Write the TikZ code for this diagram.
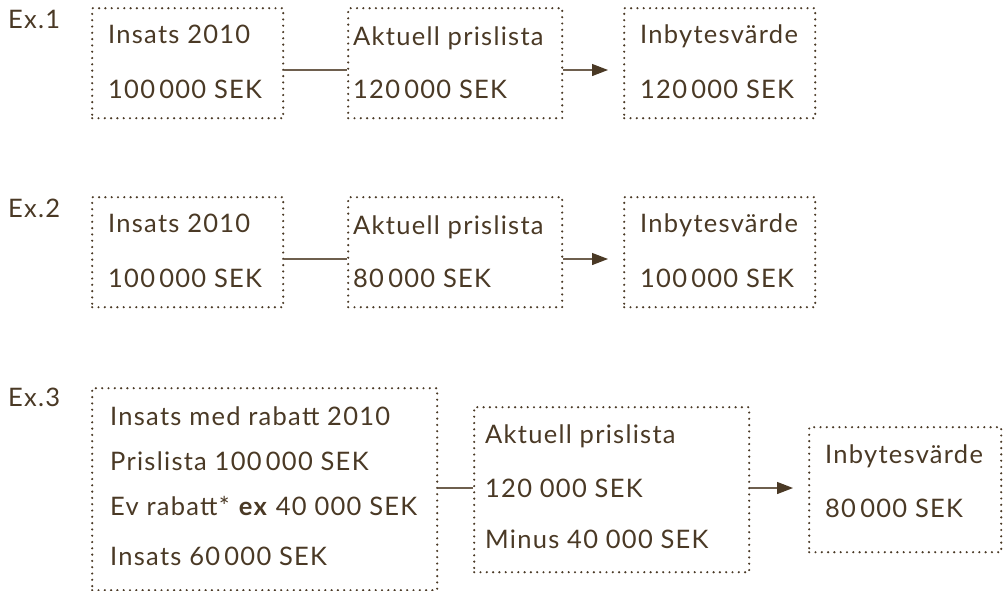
\documentclass[tikz,border=0pt]{standalone}
\usepackage{fontspec}
\setmainfont{Lato}[LetterSpace=5]
\usetikzlibrary{arrows.meta}
\definecolor{ink}{RGB}{74,57,37}
\definecolor{wire}{RGB}{110,95,78}
\tikzset{
  x=1pt, y=-1pt,
  box/.style={draw=ink, line width=2.4pt, dash pattern=on 0pt off 6.3pt, line cap=round, inner sep=0pt, anchor=north west},
  txt/.style={text=ink, inner sep=0pt, anchor=base west, font=\fontsize{25.5}{30}\selectfont},
  link/.style={draw=wire, line width=1.3pt},
  arr/.style={draw=wire, line width=1.3pt, -{Triangle[length=16pt,width=12pt,color=ink]}},
}
\begin{document}
\begin{tikzpicture}
\useasboundingbox (0,0) rectangle (1007,590);
% Row 1
\node[txt] (ex1) at (8,28) {Ex.1};
\node[box, minimum width=191pt, minimum height=110pt] (a1) at (91,7) {};
\node[box, minimum width=214pt, minimum height=110pt] (a2) at (347,7) {};
\node[box, minimum width=191pt, minimum height=110pt] (a3) at (623,7) {};
\node[txt] (a1t1) at (108,43) {Insats 2010};
\node[txt] (a1t2) at (108,98) {100\thinspace000 SEK};
\node[txt] (a2t1) at (353,45) {Aktuell prislista};
\node[txt] (a2t2) at (353,98) {120\thinspace000 SEK};
\node[txt] (a3t1) at (640,43) {Inbytesvärde};
\node[txt] (a3t2) at (640,98) {120\thinspace000 SEK};
\coordinate (r1) at (0,70);
\draw[link] (a1.east |- r1) -- (a2.west |- r1);
\draw[arr] (a2.east |- r1) -- ([xshift=-15pt]a3.west |- r1);
% Row 2
\node[txt] (ex2) at (8,217) {Ex.2};
\node[box, minimum width=191pt, minimum height=110pt] (b1) at (91,196) {};
\node[box, minimum width=214pt, minimum height=110pt] (b2) at (347,196) {};
\node[box, minimum width=191pt, minimum height=110pt] (b3) at (623,196) {};
\node[txt] (b1t1) at (108,232) {Insats 2010};
\node[txt] (b1t2) at (108,287) {100\thinspace000 SEK};
\node[txt] (b2t1) at (353,234) {Aktuell prislista};
\node[txt] (b2t2) at (353,287) {80\thinspace000 SEK};
\node[txt] (b3t1) at (640,232) {Inbytesvärde};
\node[txt] (b3t2) at (640,287) {100\thinspace000 SEK};
\coordinate (r2) at (0,259);
\draw[link] (b1.east |- r2) -- (b2.west |- r2);
\draw[arr] (b2.east |- r2) -- ([xshift=-15pt]b3.west |- r2);
% Row 3
\node[txt] (ex3) at (8,406) {Ex.3};
\node[box, minimum width=345pt, minimum height=202pt] (c1) at (91,387) {};
\node[box, minimum width=275pt, minimum height=165pt] (c2) at (473,406) {};
\node[box, minimum width=192pt, minimum height=125pt] (c3) at (808,426) {};
\node[txt] (c1t1) at (110,425) {Insats med rabatt 2010};
\node[txt] (c1t2) at (110,470) {Prislista 100\thinspace000 SEK};
\node[txt] (c1t3) at (110,515) {Ev rabatt* \textbf{ex} 40 000 SEK};
\node[txt] (c1t4) at (110,565) {Insats 60\thinspace000 SEK};
\node[txt] (c2t1) at (485,443) {Aktuell prislista};
\node[txt] (c2t2) at (485,497) {120 000 SEK};
\node[txt] (c2t3) at (485,548) {Minus 40 000 SEK};
\node[txt] (c3t1) at (825,463) {Inbytesvärde};
\node[txt] (c3t2) at (825,517) {80\thinspace000 SEK};
\coordinate (r3) at (0,488);
\draw[link] (c1.east |- r3) -- (c2.west |- r3);
\draw[arr] (c2.east |- r3) -- ([xshift=-15pt]c3.west |- r3);
\end{tikzpicture}
\end{document}
